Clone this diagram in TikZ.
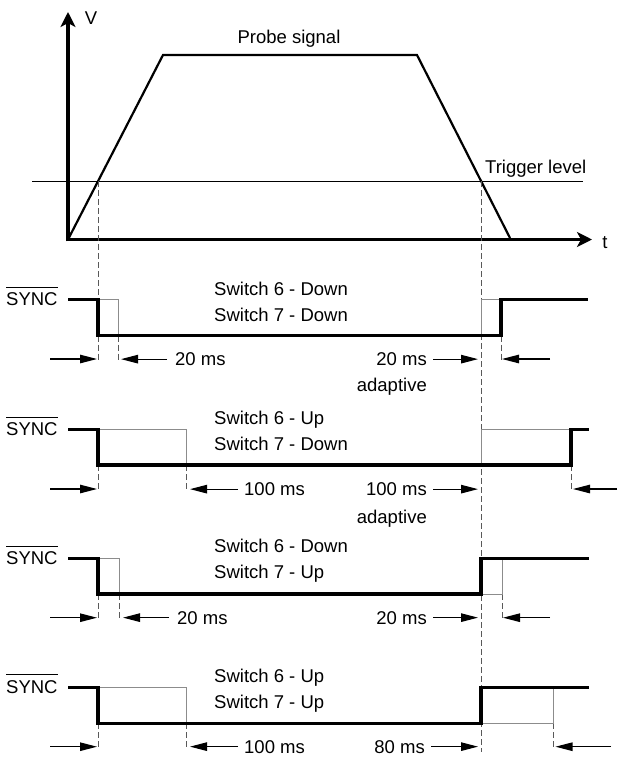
\documentclass[tikz,border=0pt]{standalone}
\usepackage{fontspec}
\setmainfont{Liberation Sans}
\usetikzlibrary{arrows.meta}
\tikzset{
  sig/.style={line width=3.1pt, line join=miter},
  thinsig/.style={line width=1pt, draw=black!45},
  dline/.style={line width=0.9pt, draw=black!65, dash pattern=on 6pt off 3pt},
  dimarrow/.style={line width=1.1pt, -{Triangle[length=17pt,width=8.5pt]}},
  lbl/.style={inner sep=0pt, font=\fontsize{18.5pt}{21pt}\selectfont},
  axis/.style={line width=3.6pt, -{Stealth[length=15pt,width=15pt,inset=4pt]}},
  ovl/.style={line width=1pt},
}
\begin{document}
\begin{tikzpicture}[x=1pt,y=-1pt]
\useasboundingbox (0,0) rectangle (619,758);
% ---------- top graph ----------
\coordinate (O) at (68,239.5);
\coordinate (Obot) at (68,241.3);
\coordinate (Vtop) at (68,12);
\coordinate (Tend) at (592,239.5);
\coordinate (P1) at (163,55);
\coordinate (P2) at (417,55);
\coordinate (P3) at (510,238);
\coordinate (TrA) at (32,181);
\coordinate (TrB) at (583,181);
\draw[line width=0.8pt] (TrA) -- (TrB);
\draw[line width=2.2pt, line join=miter] (O) -- (P1) -- (P2) -- (P3);
\draw[axis] (Obot) -- (Vtop);
\draw[axis] (O) -- (Tend);
\node[lbl, anchor=base] (probe) at (289,43.5) {Probe signal};
\node[lbl, anchor=base west] (trig) at (485,173.5) {Trigger level};
\node[lbl, anchor=base] (vlab) at (91,24.5) {V};
\node[lbl, anchor=base] (tlab) at (605,248) {t};
% dashed guides
\coordinate (L0) at (98,181);
\coordinate (L1) at (98,299.3);
\coordinate (R0) at (481,181);
\coordinate (Rend) at (481,752);
\draw[dline] (L0) -- (L1);
\draw[dline] (R0) -- (Rend);
% ---------- row 1 ----------
\node[lbl, anchor=base west] (sync1) at (6,305.5) {SYNC};
\draw[ovl] ([yshift=5pt]sync1.north west) -- ([yshift=5pt]sync1.north east);
\node[lbl, anchor=base west] (r1a) at (214,295.5) {Switch 6 - Down};
\node[lbl, anchor=base west] (r1b) at (214,321.5) {Switch 7 - Down};
\draw[dline] (98,335.7) -- (98,360);
\draw[dline] (118,335.7) -- (118,360);
\draw[dline] (501,335.7) -- (501,360);
\draw[thinsig] (98,299.3) -- (118,299.3) -- (118,335.7);
\draw[thinsig] (481,335.7) -- (481,299.3) -- (501,299.3);
\draw[sig] (68,299.3) -- (98,299.3) -- (98,335.7) -- (501,335.7) -- (501,299.3) -- (588,299.3);
\coordinate (a1s) at (50,359);
\coordinate (a1t) at (97,359);
\draw[dimarrow] (a1s) -- (a1t);
\node[lbl, anchor=base west] (m1a) at (175,365.5) {20 ms};
\coordinate (b1t) at (121,359);
\draw[dimarrow] ([xshift=-8pt]m1a.west) -- (m1a.west -| b1t);
\node[lbl, anchor=base east] (m1b) at (427,365.5) {20 ms};
\coordinate (c1t) at (478,359);
\draw[dimarrow] ([xshift=6pt]m1b.east) -- (m1b.east -| c1t);
\coordinate (d1s) at (550,359);
\coordinate (d1t) at (502,359);
\draw[dimarrow] (d1s) -- (d1t);
\node[lbl, anchor=base east] (ad1) at (427,391.5) {adaptive};
% ---------- row 2 ----------
\node[lbl, anchor=base west] (sync2) at (6,435.5) {SYNC};
\draw[ovl] ([yshift=5pt]sync2.north west) -- ([yshift=5pt]sync2.north east);
\node[lbl, anchor=base west] (r2a) at (214,424.5) {Switch 6 - Up};
\node[lbl, anchor=base west] (r2b) at (214,450.5) {Switch 7 - Down};
\draw[dline] (98,465) -- (98,490);
\draw[dline] (186.5,465) -- (186.5,490);
\draw[dline] (571,465) -- (571,490);
\draw[thinsig] (98,429.3) -- (186.5,429.3) -- (186.5,465);
\draw[thinsig] (481,465) -- (481,429.3) -- (571,429.3);
\draw[sig] (68,429.3) -- (98,429.3) -- (98,465) -- (571,465) -- (571,429.3) -- (589,429.3);
\coordinate (a2s) at (50,489);
\coordinate (a2t) at (97,489);
\draw[dimarrow] (a2s) -- (a2t);
\node[lbl, anchor=base west] (m2a) at (244,495.5) {100 ms};
\coordinate (b2t) at (190,489);
\draw[dimarrow] ([xshift=-6pt]m2a.west) -- (m2a.west -| b2t);
\node[lbl, anchor=base east] (m2b) at (427,495.5) {100 ms};
\coordinate (c2t) at (478,489);
\draw[dimarrow] ([xshift=6pt]m2b.east) -- (m2b.east -| c2t);
\coordinate (d2s) at (617,489);
\coordinate (d2t) at (573,489);
\draw[dimarrow] (d2s) -- (d2t);
\node[lbl, anchor=base east] (ad2) at (427,523.5) {adaptive};
% ---------- row 3 ----------
\node[lbl, anchor=base west] (sync3) at (6,564.5) {SYNC};
\draw[ovl] ([yshift=5pt]sync3.north west) -- ([yshift=5pt]sync3.north east);
\node[lbl, anchor=base west] (r3a) at (214,552) {Switch 6 - Down};
\node[lbl, anchor=base west] (r3b) at (214,578) {Switch 7 - Up};
\draw[dline] (98,594) -- (98,619);
\draw[dline] (119,594) -- (119,619);
\draw[dline] (502,594) -- (502,619);
\draw[thinsig] (98,558.3) -- (119,558.3) -- (119,594);
\draw[thinsig] (481,594) -- (502,594) -- (502,558.3);
\draw[sig] (68,558.3) -- (98,558.3) -- (98,594) -- (481,594) -- (481,558.3) -- (589,558.3);
\coordinate (a3s) at (50,617.7);
\coordinate (a3t) at (97,617.7);
\draw[dimarrow] (a3s) -- (a3t);
\node[lbl, anchor=base west] (m3a) at (177,624) {20 ms};
\coordinate (b3t) at (123,617.7);
\draw[dimarrow] ([xshift=-8pt]m3a.west) -- (m3a.west -| b3t);
\node[lbl, anchor=base east] (m3b) at (427,624) {20 ms};
\coordinate (c3t) at (478,617.7);
\draw[dimarrow] ([xshift=6pt]m3b.east) -- (m3b.east -| c3t);
\coordinate (d3s) at (550,617.7);
\coordinate (d3t) at (503,617.7);
\draw[dimarrow] (d3s) -- (d3t);
% ---------- row 4 ----------
\node[lbl, anchor=base west] (sync4) at (6,693) {SYNC};
\draw[ovl] ([yshift=5pt]sync4.north west) -- ([yshift=5pt]sync4.north east);
\node[lbl, anchor=base west] (r4a) at (214,682.5) {Switch 6 - Up};
\node[lbl, anchor=base west] (r4b) at (214,708) {Switch 7 - Up};
\draw[dline] (98,723.3) -- (98,748);
\draw[dline] (186.5,723.3) -- (186.5,748);
\draw[dline] (553,723.3) -- (553,748);
\draw[thinsig] (98,687.3) -- (186.5,687.3) -- (186.5,723.3);
\draw[thinsig] (481,723.3) -- (553,723.3) -- (553,687.3);
\draw[sig] (68,687.3) -- (98,687.3) -- (98,723.3) -- (481,723.3) -- (481,687.3) -- (589,687.3);
\coordinate (a4s) at (50,746.7);
\coordinate (a4t) at (97,746.7);
\draw[dimarrow] (a4s) -- (a4t);
\node[lbl, anchor=base west] (m4a) at (244,753) {100 ms};
\coordinate (b4t) at (190,746.7);
\draw[dimarrow] ([xshift=-6pt]m4a.west) -- (m4a.west -| b4t);
\node[lbl, anchor=base east] (m4b) at (425,753) {80 ms};
\coordinate (c4t) at (478,746.7);
\draw[dimarrow] ([xshift=6pt]m4b.east) -- (m4b.east -| c4t);
\coordinate (d4s) at (611,746.7);
\coordinate (d4t) at (555.5,746.7);
\draw[dimarrow] (d4s) -- (d4t);
\end{tikzpicture}
\end{document}
